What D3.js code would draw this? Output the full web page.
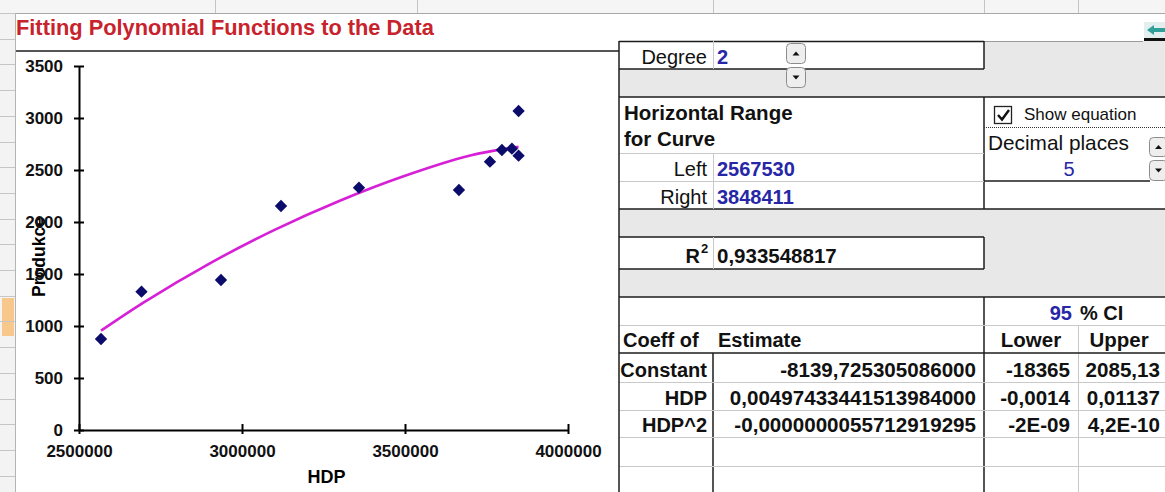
<!DOCTYPE html>
<html>
<head>
<meta charset="utf-8">
<script src="https://cdn.jsdelivr.net/npm/d3@7"></script>
<style>
  body { margin: 0; background: #fff; }
  svg text { font-family: "Liberation Sans", Arial, sans-serif; }
</style>
</head>
<body>
<script>
const hdp      = [2567530, 2691700, 2935500, 3119600, 3358800, 3665500, 3760600, 3797300, 3828000, 3848411, 3848411];
const produkce = [875, 1330, 1442, 2154, 2330, 2308, 2580, 2692, 2705, 3067, 2638];

// fitted curve
const fitX = [2567530, 2700000, 2900000, 3100000, 3300000, 3500000, 3700000, 3848411];
const fitY = [955, 1230, 1600, 1925, 2205, 2445, 2640, 2722];

const xTicks = [2500000, 3000000, 3500000, 4000000];
const yTicks = [0, 500, 1000, 1500, 2000, 2500, 3000, 3500];

// table contents
const coefNames = ["Constant", "HDP", "HDP^2"];
const estimates = ["-8139,725305086000", "0,00497433441513984000", "-0,0000000055712919295"];
const lowerCI   = ["-18365", "-0,0014", "-2E-09"];
const upperCI   = ["2085,13", "0,01137", "4,2E-10"];
const degree = "2", rangeLeft = "2567530", rangeRight = "3848411";
const rSquared = "0,933548817", decimals = "5", ciLevel = "95";

const W = 1165, H = 492;
const BLUE = "#2626a6", DARK = "#1c1c1c", LIGHT = "#c9c9c9", GRAY = "#e8e8e8";

const svg = d3.select("body").append("svg")
    .attr("width", W).attr("height", H);

svg.append("rect").attr("width", W).attr("height", H).attr("fill", "#fff");

// ---- spreadsheet background ----
const sheet = svg.append("g");
sheet.append("rect").attr("x", 0).attr("y", 0).attr("width", W).attr("height", 13).attr("fill", "#f5f5f5");
sheet.append("line").attr("x1", 0).attr("x2", W).attr("y1", 13.5).attr("y2", 13.5).attr("stroke", "#a8a8a8");
[215, 417, 713, 984, 1078].forEach(c => {
    sheet.append("line").attr("x1", c + .5).attr("x2", c + .5).attr("y1", 0).attr("y2", 13)
        .attr("stroke", "#c4c4c4");
});
// row header strip
sheet.append("rect").attr("x", 0).attr("y", 13).attr("width", 15).attr("height", H).attr("fill", "#f3f3f3");
sheet.append("rect").attr("x", 2).attr("y", 298).attr("width", 12).attr("height", 38).attr("fill", "#f7c78c");
d3.range(13, H, 25.7).forEach(r => {
    sheet.append("line").attr("x1", 0).attr("x2", 15).attr("y1", Math.round(r) + .5).attr("y2", Math.round(r) + .5)
        .attr("stroke", "#c6c6c6");
});
sheet.append("line").attr("x1", 15.5).attr("x2", 15.5).attr("y1", 13).attr("y2", H).attr("stroke", "#b4b4b4");

// title
svg.append("text").attr("x", 16).attr("y", 35)
    .attr("fill", "#c8232c").attr("font-size", 21.8).attr("font-weight", "bold")
    .text("Fitting Polynomial Functions to the Data");

// chart frame
svg.append("line").attr("x1", 16).attr("x2", 619).attr("y1", 51).attr("y2", 51)
    .attr("stroke", DARK).attr("stroke-width", 1.5);

// ---- chart ----
const x = d3.scaleLinear().domain([2500000, 4000000]).range([79, 568]);
const y = d3.scaleLinear().domain([0, 3500]).range([430, 66]);

const chart = svg.append("g");

chart.append("text")
    .attr("transform", "translate(45,257) rotate(-90)")
    .attr("text-anchor", "middle").attr("font-size", 17.5).attr("font-weight", "bold")
    .text("Produkce");

const yAxis = chart.append("g")
    .attr("transform", `translate(${x(2500000)},0)`)
    .call(d3.axisLeft(y).tickValues(yTicks).tickFormat(d3.format("d")).tickSizeInner(0).tickSizeOuter(0).tickPadding(16));
yAxis.selectAll(".tick line").attr("x1", -5).attr("x2", 5).attr("stroke-width", 2);

const xAxis = chart.append("g")
    .attr("transform", `translate(0,${y(0)})`)
    .call(d3.axisBottom(x).tickValues(xTicks).tickFormat(d3.format("d")).tickSizeInner(0).tickSizeOuter(0).tickPadding(15));
xAxis.selectAll(".tick line").attr("y1", -6).attr("y2", 4).attr("stroke-width", 2);

[yAxis, xAxis].forEach(a => {
    a.select(".domain").attr("stroke", "#000").attr("stroke-width", 2);
    a.selectAll("text").attr("font-size", 17).attr("font-weight", "bold").attr("fill", "#111")
        .attr("font-family", "'Liberation Sans', Arial, sans-serif");
});

chart.append("text").attr("x", (x(2500000) + x(4000000)) / 2 + 3).attr("y", 483)
    .attr("text-anchor", "middle").attr("font-size", 18).attr("font-weight", "bold")
    .text("HDP");

const fitLine = d3.line().x(d => x(d[0])).y(d => y(d[1])).curve(d3.curveCatmullRom);
chart.append("path")
    .datum(fitX.map((v, i) => [v, fitY[i]]))
    .attr("d", fitLine)
    .attr("fill", "none").attr("stroke", "#d61fd6").attr("stroke-width", 2.6);

chart.selectAll("path.pt")
    .data(hdp.map((v, i) => [v, produkce[i]]))
    .enter().append("path")
    .classed("pt", true)
    .attr("d", d3.symbol(d3.symbolSquare, 76))
    .attr("transform", d => `translate(${x(d[0])},${y(d[1])}) rotate(45)`)
    .attr("fill", "#0b0b6b");

// ---- table ----
const tbl = svg.append("g");
function box(x0, y0, x1, y1, fill) {
    tbl.append("rect").attr("x", x0).attr("y", y0).attr("width", x1 - x0).attr("height", y1 - y0).attr("fill", fill);
}
function hline(x0, x1, yy, col, w) {
    tbl.append("line").attr("x1", x0).attr("x2", x1).attr("y1", yy).attr("y2", yy)
        .attr("stroke", col).attr("stroke-width", w || 1);
}
function vline(xx, y0, y1, col, w) {
    tbl.append("line").attr("x1", xx).attr("x2", xx).attr("y1", y0).attr("y2", y1)
        .attr("stroke", col).attr("stroke-width", w || 1);
}
function txt(xx, yy, s, opt) {
    opt = opt || {};
    return tbl.append("text").attr("x", xx).attr("y", yy)
        .attr("font-size", opt.size || 20)
        .attr("font-weight", opt.bold ? "bold" : "normal")
        .attr("fill", opt.color || "#111")
        .attr("text-anchor", opt.anchor || "start")
        .text(s);
}
function spinner(x0, y0, w, h, up) {
    tbl.append("rect").attr("x", x0 + .5).attr("y", y0 + .5).attr("width", w).attr("height", h)
        .attr("rx", 4).attr("fill", "#eeeeee").attr("stroke", "#8c8c8c");
    const cx = x0 + w / 2 + .5, cy = y0 + h / 2 + .5;
    const p = up ? `M${cx - 3.5},${cy + 2}L${cx + 3.5},${cy + 2}L${cx},${cy - 2}Z`
                 : `M${cx - 3.5},${cy - 2}L${cx + 3.5},${cy - 2}L${cx},${cy + 2}Z`;
    tbl.append("path").attr("d", p).attr("fill", "#111");
}

// gray bands
box(619, 41, W, 97, GRAY);
box(619, 209, W, 297, GRAY);
// white cells
box(619, 41, 984, 69, "#fff");
box(619, 97, W, 209, "#fff");
box(619, 237, 984, 269, "#fff");
box(619, 297, W, H, "#fff");

// Degree
hline(619, 984, 41.5, DARK, 1.5);
hline(984, 1143, 41.5, "#9a9a9a", 1);
hline(619, 984, 69, DARK, 1.5);
vline(984, 41, 69, DARK, 1.5);
vline(713.5, 41, 69, LIGHT);
txt(707, 64, "Degree", { anchor: "end" });
txt(717, 64, degree, { bold: true, color: BLUE });
spinner(786, 43, 19, 20, true);
spinner(786, 67, 19, 20, false);

// Horizontal range block
hline(619, W, 97, DARK, 1.5);
hline(619, W, 209, DARK, 1.5);
vline(984, 97, 209, DARK, 1.5);
hline(619, 984, 153.5, LIGHT);
hline(619, 984, 181.5, LIGHT);
vline(713.5, 153, 209, LIGHT);
txt(624, 120, "Horizontal Range", { bold: true, size: 20.5 });
txt(624, 146, "for Curve", { bold: true, size: 20.5 });
txt(707, 176, "Left", { anchor: "end" });
txt(717, 176, rangeLeft, { bold: true, color: BLUE });
txt(707, 204, "Right", { anchor: "end" });
txt(717, 204, rangeRight, { bold: true, color: BLUE });

// options
tbl.append("rect").attr("x", 994.5).attr("y", 106.5).attr("width", 17).attr("height", 17)
    .attr("fill", "#fff").attr("stroke", "#222").attr("stroke-width", 1.3);
tbl.append("path").attr("d", "M998,115 L1002,119.5 L1009,110").attr("fill", "none")
    .attr("stroke", "#111").attr("stroke-width", 2.4);
txt(1024, 120, "Show equation", { size: 17 });
tbl.append("line").attr("x1", 984).attr("x2", W).attr("y1", 127.5).attr("y2", 127.5)
    .attr("stroke", "#333").attr("stroke-dasharray", "1,1");
txt(988, 150, "Decimal places", { size: 20.8 });
txt(1069, 176, decimals, { color: BLUE, anchor: "middle" });
hline(984, 1150, 181, DARK, 1.5);
spinner(1149, 137, 18, 19, true);
spinner(1149, 160, 18, 20, false);

// R squared
hline(619, 984, 237, DARK, 1.5);
hline(619, 984, 269, DARK, 1.5);
vline(984, 237, 269, DARK, 1.5);
vline(713.5, 237, 269, LIGHT);
txt(700, 263, "R", { bold: true, anchor: "end" });
txt(701, 253, "2", { size: 13, bold: true });
txt(717, 263, rSquared, { bold: true, size: 20.5 });

// coefficients block
hline(619, W, 297, DARK, 1.5);
vline(984, 297, H, DARK, 1.5);
hline(619, W, 325.5, LIGHT);
vline(1078.5, 325, H, LIGHT);
hline(619, W, 353, DARK, 1.5);
vline(713, 353, H, DARK, 1.5);
[382, 410, 437, 466].forEach(r => hline(619, W, r + .5, LIGHT));

txt(1072, 320, ciLevel, { bold: true, color: BLUE, anchor: "end" });
txt(1080, 320, "% CI", { bold: true });
txt(623, 347, "Coeff of", { bold: true });
txt(718, 347, "Estimate", { bold: true });
txt(1031, 347, "Lower", { bold: true, anchor: "middle", size: 20.5 });
txt(1119, 347, "Upper", { bold: true, anchor: "middle", size: 20.5 });

const rowBase = [377, 405, 432];
coefNames.forEach((n, i) => {
    txt(707, rowBase[i], n, { bold: true, anchor: "end" });
    txt(976, rowBase[i], estimates[i], { bold: true, anchor: "end", size: 20.6 });
    txt(1070, rowBase[i], lowerCI[i], { bold: true, anchor: "end", size: 20.6 });
    txt(1160, rowBase[i], upperCI[i], { bold: true, anchor: "end", size: 20.6 });
});

// table left border
vline(619, 41, H, DARK, 1.5);

// small arrow icon top right
const ic = svg.append("g").attr("transform", "translate(1144,22)");
ic.append("rect").attr("width", 22).attr("height", 17).attr("fill", "#e3eeee");
ic.append("path").attr("d", "M3,8 L10,3 L10,6 L21,6 L21,10 L10,10 L10,13 Z").attr("fill", "#2f9f9a");
ic.append("rect").attr("y", 16).attr("width", 22).attr("height", 3).attr("fill", "#111");
</script>
</body>
</html>
